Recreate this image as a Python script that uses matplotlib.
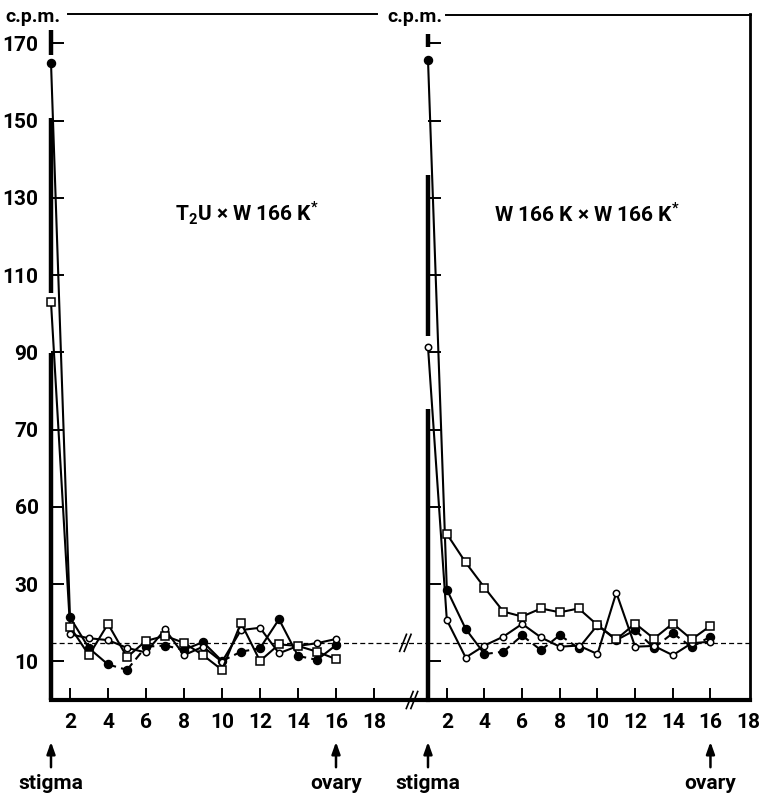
import numpy as np
import matplotlib
matplotlib.use("Agg")
import matplotlib.pyplot as plt
from matplotlib.lines import Line2D

plt.rcParams["font.family"] = ["Roboto", "DejaVu Sans"]
plt.rcParams["font.weight"] = "bold"
plt.rcParams["mathtext.fontset"] = "custom"

# ── data (c.p.m. per section, 1 = stigma ... 16 = ovary) ──────────────────
SECTIONS = list(range(1, 17))

left_filled = [165, 21.4, 13.4, 9.2, 7.8, 13.8, 14.1, 13.0, 15.0, 10.1,
               12.5, 13.4, 20.9, 11.4, 10.4, 14.2]
left_open_x = list(range(2, 17))
left_open = [17.0, 16.0, 15.5, 13.5, 12.3, 18.3, 11.6, 13.8, 9.9, 18.1,
             18.7, 12.1, 14.0, 14.7, 15.8]
left_square = [103, 19.0, 11.6, 19.7, 11.1, 15.3, 16.6, 14.8, 11.6, 7.8,
               20.0, 10.1, 14.4, 14.0, 12.5, 10.6]

right_filled = [165.7, 28.6, 18.4, 11.9, 12.5, 16.7, 12.9, 16.8, 13.4, 19.4,
                15.5, 18.1, 13.5, 17.3, 13.7, 16.4]
right_open = [91.4, 20.7, 11.0, 14.1, 16.4, 19.7, 16.2, 13.8, 14.1, 11.9,
              27.8, 13.8, 14.0, 11.6, 14.7, 15.1]
right_square_x = list(range(2, 17))
right_square = [43.0, 35.6, 29.1, 22.9, 21.6, 23.7, 22.7, 23.7, 19.4, 15.7,
                19.8, 15.9, 19.8, 15.7, 19.2]

BACKGROUND = 14.8          # dashed reference level

# broken pieces of the printed y axis (value ranges)
left_axis_pieces = [(167, 173.5), (105.4, 150.7), (0, 89.8)]
right_axis_pieces = [(169, 172.5), (94.2, 136), (0, 75.3)]

YTICKS = [10, 30, 50, 70, 90, 110, 130, 150, 170]
YTICK_LABELS = ["10", "30", "60", "70", "90", "110", "130", "150", "170"]
XTICKS = [2, 4, 6, 8, 10, 12, 14, 16, 18]

# segment styles of the filled-circle line (True = dashed)
left_dash = [0, 0, 0, 1, 1, 1, 1, 0, 0, 1, 1, 0, 0, 1, 0]
right_dash = [0, 0, 0, 1, 1, 1, 1, 1, 0, 0, 0, 1, 1, 1, 1]

# ── figure ────────────────────────────────────────────────────────────────
W, H = 763, 797
fig = plt.figure(figsize=(W / 100, H / 100), dpi=100)

def fx(px):
    return px / W

def fy(py):
    return 1 - py / H

axL = fig.add_axes([fx(51), fy(700), fx(428 - 51), (700 - 14) / H])
axR = fig.add_axes([fx(428), fy(700), fx(750 - 428), (700 - 14) / H])

LW = 1.5
FS = 15


def style_axis(ax, xmax, show_ylabels, pieces):
    ax.set_xlim(1, xmax)
    ax.set_ylim(0, 177.6)
    for s in ["top", "left", "right"]:
        ax.spines[s].set_visible(False)
    ax.spines["bottom"].set_linewidth(3.0)
    ax.set_xticks(XTICKS)
    ax.set_yticks(YTICKS)
    if show_ylabels:
        ax.set_yticklabels(YTICK_LABELS)
    else:
        ax.set_yticklabels([])
    ax.tick_params(axis="both", direction="in", length=9, width=1.4,
                   labelsize=FS, pad=9)
    ax.tick_params(axis="y", pad=9)
    for lo, hi in pieces:
        ax.plot([1, 1], [lo, hi], color="black", lw=3.2,
                solid_capstyle="butt", clip_on=False, zorder=5)
    ax.axhline(BACKGROUND, color="black", lw=0.9, dashes=(4, 2.5), zorder=1)


def filled_line(ax, xs, ys, dash):
    for i in range(len(xs) - 1):
        ls = (0, (4, 2.5)) if dash[i] else "-"
        ax.plot(xs[i:i + 2], ys[i:i + 2], color="black", lw=LW, ls=ls,
                zorder=3, clip_on=False)
    ax.plot(xs, ys, ls="none", marker="o", ms=5.8, color="black",
            zorder=4, clip_on=False)


def open_line(ax, xs, ys, marker, ms):
    ax.plot(xs, ys, color="black", lw=LW, marker=marker, ms=ms,
            mfc="white", mec="black", mew=1.1, zorder=4, clip_on=False)


style_axis(axL, 1 + (428 - 51) / 19.0, True, left_axis_pieces)
style_axis(axR, 18.1, False, right_axis_pieces)
axR.spines["right"].set_visible(True)
axR.spines["right"].set_linewidth(2.0)
axR.xaxis.get_major_ticks()[-1].tick1line.set_visible(False)

# left panel
filled_line(axL, SECTIONS, left_filled, left_dash)
open_line(axL, left_open_x, left_open, "o", 4.6)
open_line(axL, SECTIONS, left_square, "s", 5.2)
axL.text(11.3, 126, r"T$_\mathregular{2}$U × W 166 K$^\mathregular{*}$",
         fontsize=FS, ha="center", va="center")

# right panel
filled_line(axR, SECTIONS, right_filled, right_dash)
open_line(axR, SECTIONS, right_open, "o", 4.6)
open_line(axR, right_square_x, right_square, "s", 5.2)
axR.text(9.43, 126, r"W 166 K × W 166 K$^\mathregular{*}$",
         fontsize=FS, ha="center", va="center")

# stigma / ovary arrows
for ax in (axL, axR):
    for xpos, label in ((1, "stigma"), (16, "ovary")):
        ax.annotate("", xy=(xpos, -0.061), xytext=(xpos, -0.098),
                    xycoords=("data", "axes fraction"),
                    textcoords=("data", "axes fraction"),
                    arrowprops=dict(arrowstyle="-|>,head_length=0.7,head_width=0.25",
                                    lw=1.8, color="black", shrinkA=0, shrinkB=0))
        ax.text(xpos, -0.122, label, transform=ax.get_xaxis_transform(),
                ha="center", va="center", fontsize=FS)

# axis break marks between the panels
for xb, yb in ((19.65, BACKGROUND), (20.0, 0)):
    for dx in (-0.12, 0.12):
        axL.plot([xb + dx - 0.18, xb + dx + 0.18], [yb - 2.2, yb + 2.2],
                 color="black", lw=1.2, clip_on=False, zorder=6)

# top frame line and c.p.m. labels
fig.add_artist(Line2D([fx(68), fx(377)], [fy(14), fy(14)], color="black", lw=1.4))
fig.add_artist(Line2D([fx(446), fx(751)], [fy(15), fy(15)], color="black", lw=1.4))
fig.text(fx(5), fy(17), "c.p.m.", fontsize=14, ha="left", va="center")
fig.text(fx(415), fy(17), "c.p.m.", fontsize=14, ha="center", va="center")

fig.savefig("out.png", dpi=100)
